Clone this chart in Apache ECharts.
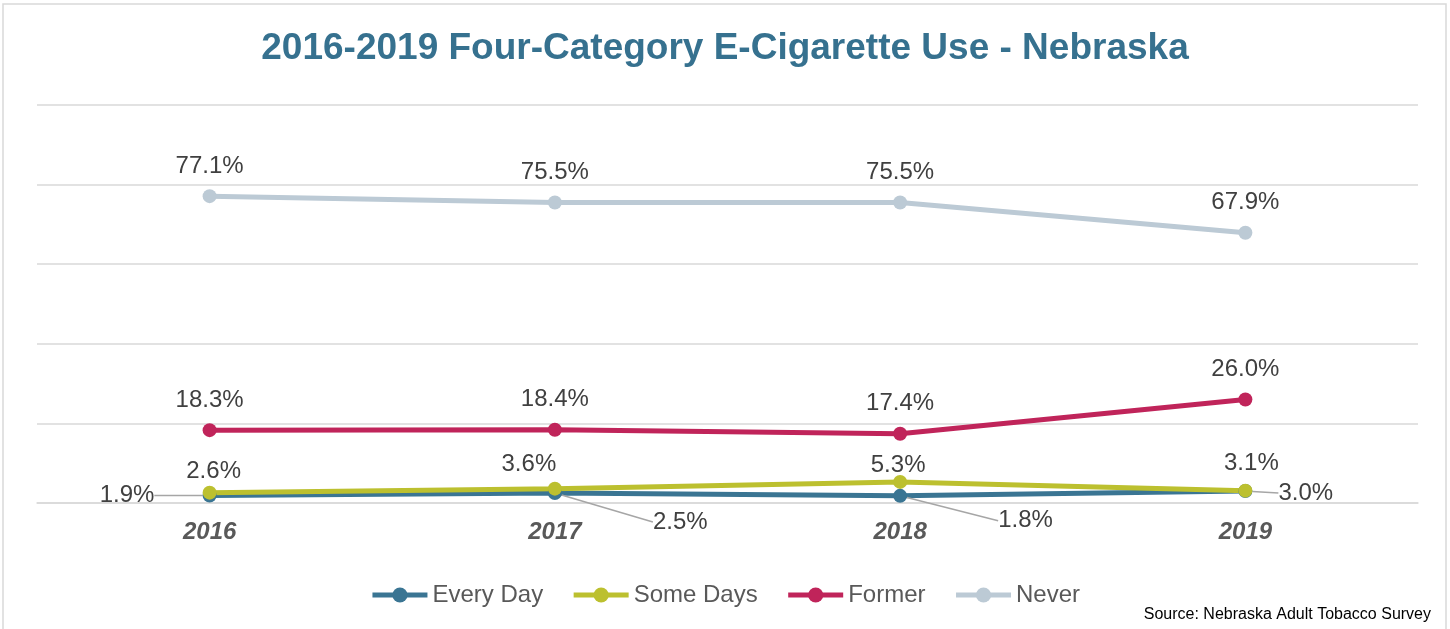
<!DOCTYPE html>
<html>
<head>
<meta charset="utf-8">
<script src="https://cdn.jsdelivr.net/npm/echarts@6/dist/echarts.min.js"></script>
<style>
  html, body { margin: 0; padding: 0; background: #fff; }
  #chart { width: 1450px; height: 629px; }
</style>
</head>
<body>
<div id="chart"></div>
<script>
// data
const years = ['2016', '2017', '2018', '2019']
const everyDay = [1.9, 2.5, 1.8, 3.0]
const someDays = [2.6, 3.6, 5.3, 3.1]
const former = [18.3, 18.4, 17.4, 26.0]
const never = [77.1, 75.5, 75.5, 67.9]

// label nudges (by series, by point)
const labelShift = {
  'Every Day': [[-122, 0], [86, 29], [86, 25], [21, 2]],
  'Some Days': [[4, 9], [-26, 6], [-2, 13], [6, 3]]
}
const withLeader = { 'Every Day': true }

const font = 'Liberation Sans, Arial, sans-serif'

function makeSeries(name, data, color, pos) {
  return {
    name: name,
    type: 'line',
    data: data,
    symbol: 'circle',
    symbolSize: 14,
    lineStyle: { width: 5, color: color },
    itemStyle: { color: color },
    label: {
      show: true,
      position: pos,
      distance: pos === 'top' ? 11 : 5,
      formatter: p => p.value.toFixed(1) + '%',
      fontSize: 24,
      fontFamily: font,
      color: '#404040'
    },
    labelLine: {
      show: !!withLeader[name],
      lineStyle: { color: '#a6a6a6', width: 1.5 }
    },
    labelLayout: labelShift[name] ? function (params) {
      let s = labelShift[name][params.dataIndex]
      return { dx: s[0], dy: s[1] }
    } : null,
    emphasis: { disabled: true }
  }
}

let myChart = echarts.init(document.getElementById('chart'))
myChart.setOption({
  animation: false,
  title: [
    {
      text: '2016-2019 Four-Category E-Cigarette Use - Nebraska',
      left: 'center',
      top: 25,
      textStyle: { fontSize: 37, fontWeight: 'bold', color: '#36718f', fontFamily: font }
    },
    {
      text: 'Source: Nebraska Adult Tobacco Survey',
      right: 14,
      top: 602,
      textStyle: { fontSize: 16, fontWeight: 'normal', color: '#000', fontFamily: font }
    }
  ],
  graphic: [{
    type: 'rect',
    shape: { x: 3, y: 4, width: 1443, height: 640 },
    style: { fill: 'none', stroke: '#d9d9d9', lineWidth: 1.5 },
    silent: true
  }],
  legend: {
    top: 578,
    left: 'center',
    itemWidth: 55,
    itemHeight: 19,
    itemGap: 28,
    lineStyle: { width: 5 },
    textStyle: { fontSize: 24, color: '#595959', fontFamily: font },
    data: ['Every Day', 'Some Days', 'Former', 'Never']
  },
  grid: { left: 37, right: 32, top: 105, bottom: 126 },
  xAxis: {
    type: 'category',
    data: years,
    boundaryGap: true,
    axisLine: { lineStyle: { color: '#d9d9d9', width: 1.5 } },
    axisTick: { show: false },
    axisLabel: {
      margin: 17,
      fontSize: 24,
      fontWeight: 'bold',
      fontStyle: 'italic',
      color: '#595959',
      fontFamily: font
    }
  },
  yAxis: {
    type: 'value',
    min: 0,
    max: 100,
    interval: 20,
    axisLabel: { show: false },
    axisLine: { show: false },
    axisTick: { show: false },
    splitLine: { lineStyle: { color: '#d9d9d9', width: 1.5 } }
  },
  series: [
    makeSeries('Every Day', everyDay, '#3a7593', 'right'),
    makeSeries('Some Days', someDays, '#bcc02f', 'top'),
    makeSeries('Former', former, '#c0245a', 'top'),
    makeSeries('Never', never, '#bccad5', 'top')
  ]
})
</script>
</body>
</html>
